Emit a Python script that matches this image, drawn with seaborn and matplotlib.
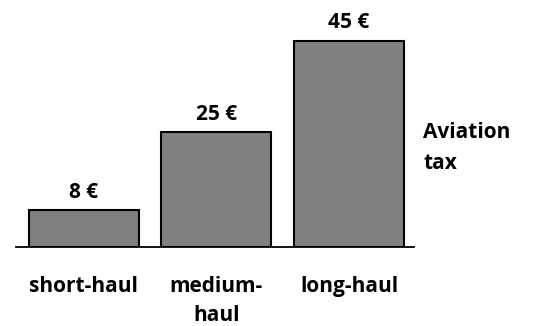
import matplotlib
matplotlib.use("Agg")
import matplotlib.pyplot as plt
import seaborn as sns
import pandas as pd

categories = ["short-haul", "medium-\nhaul", "long-haul"]
values = [8, 25, 45]
value_labels = ["8 €", "25 €", "45 €"]
side_label = "Aviation\ntax"

sns.set_theme(style="white")
plt.rcParams["font.family"] = ["Open Sans", "DejaVu Sans"]

df = pd.DataFrame({"category": categories, "tax": values})

fig = plt.figure(figsize=(5.57, 3.26), dpi=100)
ax = fig.add_axes([16 / 557, 79 / 326, (414 - 16) / 557, 229 / 326])

sns.barplot(data=df, x="category", y="tax", color="#808080", saturation=1,
            width=0.83, edgecolor="black", linewidth=1.5, ax=ax)

ax.set_xlim(-0.51, 2.49)
ax.set_ylim(0, 50)

for i, (v, lab) in enumerate(zip(values, value_labels)):
    ax.annotate(lab, (i, v), xytext=(0, 5.5), textcoords="offset points",
                ha="center", va="bottom", fontsize=15, fontweight="bold",
                color="black")

ax.set_xlabel("")
ax.set_ylabel("")
ax.set_yticks([])
ax.tick_params(axis="x", length=0, pad=21, labelsize=15, labelcolor="black")
for t in ax.get_xticklabels():
    t.set_fontweight("bold")
    t.set_verticalalignment("top")
    t.set_linespacing(1.5)

for s in ["top", "left", "right"]:
    ax.spines[s].set_visible(False)
ax.spines["bottom"].set_color("black")
ax.spines["bottom"].set_linewidth(1.3)

fig.text(423 / 557, 1 - 148 / 326, side_label, ha="left", va="center",
         fontsize=15, fontweight="bold", linespacing=1.65, color="black")

fig.savefig("out.png", dpi=100, facecolor="white")
